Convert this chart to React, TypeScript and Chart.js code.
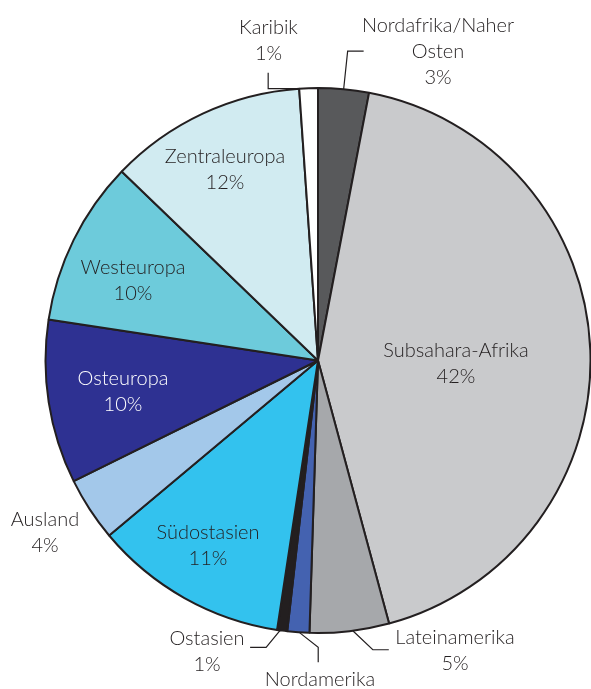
import React, { useEffect, useRef } from "react";
import { Chart, registerables } from "chart.js";

Chart.register(...registerables);

// Regions (clockwise from 12 o'clock)
const regions = [
  "Nordafrika/Naher Osten",
  "Subsahara-Afrika",
  "Lateinamerika",
  "Nordamerika",
  "Ostasien",
  "Südostasien",
  "Ausland",
  "Osteuropa",
  "Westeuropa",
  "Zentraleuropa",
  "Karibik",
];

// Label text lines (as printed)
const labelLines = [
  ["Nordafrika/Naher", "Osten"],
  ["Subsahara-Afrika"],
  ["Lateinamerika"],
  ["Nordamerika"],
  ["Ostasien"],
  ["Südostasien"],
  ["Ausland"],
  ["Osteuropa"],
  ["Westeuropa"],
  ["Zentraleuropa"],
  ["Karibik"],
];

// Published (rounded) shares shown in labels, %
const publishedPercent = [3, 42, 5, 1, 1, 11, 4, 10, 10, 12, 1];

// Slice shares as drawn in the picture, %
const sliceShare = [3.0, 42.8, 4.7, 1.3, 0.6, 11.5, 3.8, 9.7, 9.8, 11.7, 1.1];

const sliceColors = [
  "#58595b",
  "#c9cacc",
  "#a6a8ab",
  "#4462b0",
  "#231f20",
  "#33c2ee",
  "#a3c8ea",
  "#2e3192",
  "#6dcbdb",
  "#d1ebf1",
  "#ffffff",
];

// Label layout: block centre x and first baseline, relative to pie centre (px)
const labelLayout = [
  { dx: 120, dy: -328.5, color: "#231f20" },
  { dx: 138, dy: -3.5, color: "#231f20" },
  { dx: 137, dy: 283.5, color: "#231f20" },
  { dx: 2, dy: 325.5, color: "#231f20" },
  { dx: -111, dy: 284.5, color: "#231f20" },
  { dx: -110, dy: 178.5, color: "#231f20" },
  { dx: -273, dy: 165.5, color: "#231f20" },
  { dx: -195, dy: 24.5, color: "#ffffff" },
  { dx: -185, dy: -86.5, color: "#231f20" },
  { dx: -93, dy: -197.5, color: "#231f20" },
  { dx: -49.5, dy: -326.5, color: "#231f20" },
];

// Leader lines: slice index, position along the arc (0..1), bends relative to arc point
const leaders = [
  { index: 10, t: 0, pts: [[-31, 0], [-31, -16]] },
  { index: 0, t: 0.5, pts: [[4, -38], [20, -38]] },
  { index: 2, t: 0.46, pts: [[20, 19], [36, 19]] },
  { index: 3, t: 0.46, pts: [[19, 15], [19, 30]] },
  { index: 4, t: 0.7, pts: [[-14, 17], [-30, 17]] },
];

const LINE_H = 26;
const FONT = '300 20px Lato, "Liberation Sans", sans-serif';

const labelPlugin = {
  id: "pieLabels",
  afterDraw(chart: any) {
    const meta = chart.getDatasetMeta(0);
    if (!meta || !meta.data.length) return;
    const arc0 = meta.data[0];
    const cx = arc0.x;
    const cy = arc0.y;
    const R = arc0.outerRadius;
    const ctx = chart.ctx;
    ctx.save();
    // leader lines
    ctx.strokeStyle = "#231f20";
    ctx.lineWidth = 1.2;
    leaders.forEach((ld) => {
      const a = meta.data[ld.index];
      const ang = a.startAngle + (a.endAngle - a.startAngle) * ld.t;
      const px = cx + R * Math.cos(ang);
      const py = cy + R * Math.sin(ang);
      ctx.beginPath();
      ctx.moveTo(px, py);
      ld.pts.forEach(([dx, dy]) => ctx.lineTo(px + dx, py + dy));
      ctx.stroke();
    });
    // labels
    ctx.font = FONT;
    ctx.textAlign = "center";
    ctx.textBaseline = "alphabetic";
    regions.forEach((_, i) => {
      const lay = labelLayout[i];
      const lines = [...labelLines[i], publishedPercent[i] + "%"];
      ctx.fillStyle = lay.color;
      lines.forEach((ln, k) => {
        ctx.fillText(ln, cx + lay.dx, cy + lay.dy + k * LINE_H);
      });
    });
    ctx.restore();
  },
};

export default function App() {
  const ref = useRef<HTMLCanvasElement | null>(null);
  useEffect(() => {
    if (!ref.current) return;
    const chart = new Chart(ref.current, {
      type: "pie",
      data: {
        labels: regions,
        datasets: [
          {
            data: sliceShare,
            backgroundColor: sliceColors,
            borderColor: "#231f20",
            borderWidth: 2,
          },
        ],
      },
      options: {
        responsive: false,
        animation: false,
        radius: 272.5,
        layout: { padding: { left: 45, top: 32, right: 0, bottom: 0 } },
        plugins: {
          legend: { display: false },
          tooltip: { enabled: false },
        },
      } as any,
      plugins: [labelPlugin],
    });
    return () => chart.destroy();
  }, []);
  return (
    <div style={{ position: "absolute", left: 0, top: 0, width: 591, height: 689, background: "#fff", overflow: "hidden" }}>
      <canvas ref={ref} width={591} height={689} style={{ display: "block" }} />
    </div>
  );
}
